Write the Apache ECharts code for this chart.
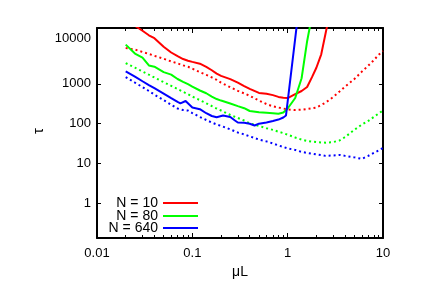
<!DOCTYPE html>
<html>
<head>
<meta charset="utf-8">
<script src="https://cdn.jsdelivr.net/npm/echarts@6/dist/echarts.min.js"></script>
<style>
html,body{margin:0;padding:0;background:#fff;}
#chart{width:436px;height:288px;}
</style>
</head>
<body>
<div id="chart"></div>
<script>
// ---- data ----
const muLShared = [0.02, 0.025, 0.03, 0.035, 0.04, 0.05, 0.06, 0.07, 0.08, 0.09, 0.1, 0.12, 0.14, 0.16, 0.18, 0.2, 0.25, 0.3, 0.35, 0.4, 0.5, 0.6, 0.7, 0.8, 0.9, 1.0, 1.2, 1.4, 1.6, 1.8, 2.0, 2.5, 3, 3.5, 4, 5, 6, 7, 8, 9, 10];
const tauN10Dotted = [7900, 7200, 6300, 5600, 5050, 4250, 3650, 3250, 2900, 2680, 2400, 1960, 1680, 1450, 1260, 1070, 820, 665, 575, 500, 380, 310, 272, 254, 240, 228, 220, 224, 234, 244, 254, 338, 465, 640, 850, 1310, 2020, 2850, 3900, 5350, 6600];
const tauN80Dotted = [3300, 2540, 2040, 1690, 1440, 1100, 890, 740, 630, 550, 480, 390, 325, 277, 240, 214, 165, 139, 120, 102, 88, 77, 70, 63, 58, 53, 45, 40, 37, 35.5, 34.5, 33.5, 34.5, 38, 46, 70, 95, 117, 147, 180, 214];
const tauN640Dotted = [1480, 1070, 830, 660, 537, 390, 299, 240, 220, 214, 185, 147, 124, 107, 95.5, 88, 72, 60, 54, 48, 40, 36, 32, 28.5, 26.2, 24, 22, 19.6, 18.5, 17.7, 17, 15.6, 16, 16.5, 15.6, 14.3, 13.1, 15.6, 18.5, 21.4, 24.6];

const muLN10 = [0.02, 0.025, 0.03, 0.035, 0.04, 0.05, 0.06, 0.07, 0.08, 0.09, 0.1, 0.12, 0.14, 0.16, 0.18, 0.2, 0.25, 0.3, 0.35, 0.4, 0.5, 0.6, 0.7, 0.8, 0.9, 1.0, 1.2, 1.4, 1.6, 1.8, 2.0, 2.25, 2.5, 2.7];
const tauN10 = [45000, 28500, 21400, 16500, 13900, 8500, 6100, 4920, 4180, 3800, 3550, 3200, 2660, 2190, 1800, 1580, 1310, 1070, 880, 750, 590, 565, 520, 470, 450, 440, 550, 660, 830, 1470, 2530, 5500, 18600, 45000];

const muLN80 = [0.02, 0.025, 0.03, 0.035, 0.04, 0.05, 0.06, 0.07, 0.08, 0.09, 0.1, 0.12, 0.14, 0.16, 0.18, 0.2, 0.25, 0.3, 0.35, 0.4, 0.5, 0.6, 0.7, 0.8, 0.9, 1.0, 1.2, 1.4, 1.6, 1.8];
const tauN80 = [9600, 5750, 4550, 2890, 2690, 1970, 1700, 1320, 1120, 980, 850, 680, 580, 480, 415, 380, 320, 276, 245, 208, 193, 187, 182, 177, 190, 240, 440, 1380, 11700, 52000];

const muLN640 = [0.02, 0.025, 0.03, 0.035, 0.04, 0.05, 0.06, 0.07, 0.075, 0.085, 0.1, 0.12, 0.14, 0.16, 0.18, 0.21, 0.25, 0.28, 0.3, 0.35, 0.4, 0.45, 0.5, 0.6, 0.7, 0.8, 0.9, 0.96, 1.4];
const tauN640 = [2040, 1510, 1160, 933, 776, 569, 438, 352, 324, 370, 254, 231, 183, 156, 145, 160, 147, 120, 107, 106, 100, 90, 100, 107, 117, 127, 143, 160, 300000];

const seriesNames = ['N = 10', 'N = 80', 'N = 640'];
const xMajorTicks = [0.01, 0.1, 1, 10];
const xMinorTicks = [0.02, 0.03, 0.04, 0.05, 0.06, 0.07, 0.08, 0.09, 0.2, 0.3, 0.4, 0.5, 0.6, 0.7, 0.8, 0.9, 2, 3, 4, 5, 6, 7, 8, 9];
const yTicks = [1, 10, 100, 1000];
const yTickLabels = [1, 10, 100, 1000, 10000];
const xAxisName = 'μL';
const yAxisName = 'τ';

// ---- chart ----
const FONT = 'Liberation Sans';
const colors = ['#ff0000', '#00ff00', '#0000ff'];
const pair = (xs, ys) => xs.map((x, i) => [x, ys[i]]);

const X_MIN = 0.01, X_MAX = 10, Y_MIN = 0.136, Y_MAX = 25100;

function xAxisDef(position, major, showLine, showLabel) {
  return {
    type: 'log', logBase: 10, position: position, min: X_MIN, max: X_MAX,
    axisLine: { show: showLine, lineStyle: { color: '#000', width: 2 } },
    axisTick: { show: true, inside: true, length: major ? 5 : 3, customValues: major ? xMajorTicks : xMinorTicks,
                lineStyle: { color: '#000', width: 1 } },
    axisLabel: { show: showLabel, customValues: xMajorTicks, margin: 9, fontSize: 13, color: '#000', fontFamily: FONT,
                 formatter: v => String(Number(v.toPrecision(6))) },
    splitLine: { show: false }, minorTick: { show: false }
  };
}
function yAxisDef(position, showLabel) {
  return {
    type: 'log', logBase: 10, position: position, min: Y_MIN, max: Y_MAX,
    axisLine: { show: true, lineStyle: { color: '#000', width: 2 } },
    axisTick: { show: true, inside: true, length: 4, customValues: yTicks, lineStyle: { color: '#000', width: 1 } },
    axisLabel: { show: showLabel, customValues: yTickLabels, margin: 6, fontSize: 13, color: '#000', fontFamily: FONT,
                 showMinLabel: true, showMaxLabel: true,
                 formatter: v => { const s = String(Math.round(v)); return v > 5000 ? '{up|' + s + '}' : s; },
                 rich: { up: { fontSize: 13, color: '#000', fontFamily: FONT, padding: [0, 0, 11, 0] } } },
    splitLine: { show: false }
  };
}

const xAxes = [xAxisDef('bottom', true, true, true), xAxisDef('bottom', false, false, false),
               xAxisDef('top', true, true, false), xAxisDef('top', false, false, false)];
xAxes[0].name = xAxisName;
xAxes[0].nameLocation = 'middle';
xAxes[0].nameGap = 26;
xAxes[0].nameTextStyle = { fontSize: 14, color: '#000', fontFamily: FONT };

const yAxes = [yAxisDef('left', true), yAxisDef('right', false)];

function lineSeries(name, data, color, dotted) {
  return {
    name: name, type: 'line', data: data, xAxisIndex: 0, yAxisIndex: 0,
    showSymbol: false, symbol: 'none', smooth: false, clip: true,
    lineStyle: { color: color, width: 2, type: dotted ? [2, 3] : 'solid' },
    itemStyle: { color: color }, emphasis: { disabled: true }
  };
}

const series = [
  lineSeries(seriesNames[0] + ' dotted', pair(muLShared, tauN10Dotted), colors[0], true),
  lineSeries(seriesNames[1] + ' dotted', pair(muLShared, tauN80Dotted), colors[1], true),
  lineSeries(seriesNames[2] + ' dotted', pair(muLShared, tauN640Dotted), colors[2], true),
  lineSeries(seriesNames[0], pair(muLN10, tauN10), colors[0], false),
  lineSeries(seriesNames[1], pair(muLN80, tauN80), colors[1], false),
  lineSeries(seriesNames[2], pair(muLN640, tauN640), colors[2], false)
];

const legendTops = [196, 209, 221];
const legends = seriesNames.map((n, i) => ({
  data: [n], right: 238, top: legendTops[i], orient: 'horizontal', align: 'right',
  icon: 'rect', itemWidth: 35, itemHeight: 2, itemGap: 0, padding: 0, selectedMode: false,
  textStyle: { fontSize: 14, color: '#000', fontFamily: FONT, lineHeight: 14 }
}));

const chart = echarts.init(document.getElementById('chart'), null, { renderer: 'canvas' });
chart.setOption({
  animation: false,
  backgroundColor: '#fff',
  textStyle: { fontFamily: FONT },
  grid: { left: 97, right: 53, top: 28, bottom: 50, containLabel: false },
  xAxis: xAxes,
  yAxis: yAxes,
  legend: legends,
  graphic: [{
    type: 'text', x: 39, y: 131, rotation: Math.PI / 2,
    style: { text: yAxisName, fontSize: 15, fill: '#000', fontFamily: FONT, align: 'center', verticalAlign: 'middle' }
  }],
  series: series
});
</script>
</body>
</html>
